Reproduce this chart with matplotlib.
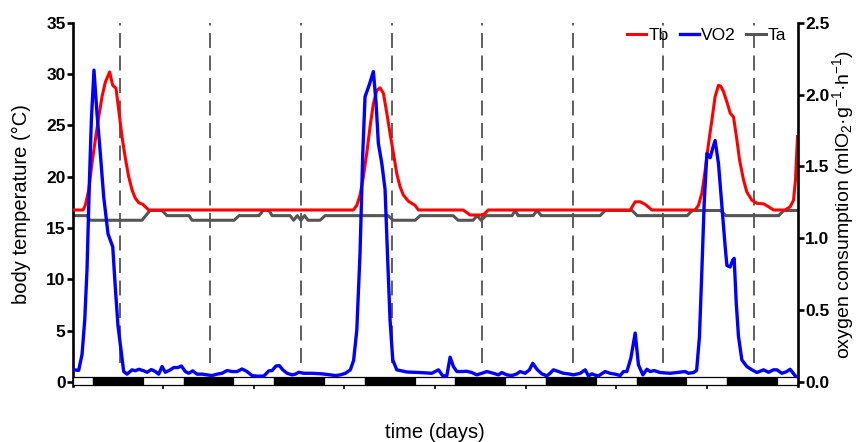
import numpy as np
import matplotlib
matplotlib.use('Agg')
import matplotlib.pyplot as plt
from matplotlib.patches import Rectangle

plt.rcParams['font.family'] = ['Liberation Sans', 'DejaVu Sans']
plt.rcParams['mathtext.fontset'] = 'custom'
plt.rcParams['mathtext.rm'] = 'Liberation Sans'
plt.rcParams['mathtext.it'] = 'Liberation Sans:italic'
plt.rcParams['mathtext.bf'] = 'Liberation Sans:bold'

# body temperature (deg C) vs time (days)
tb_days = [0, 0.116, 0.141, 0.179, 0.215, 0.252, 0.289, 0.326, 0.362, 0.400, 0.410, 0.425,
           0.444, 0.480, 0.510, 0.546, 0.583, 0.620, 0.657, 0.693, 0.731, 0.775, 0.811, 0.841,
           3.099, 3.137, 3.173, 3.210, 3.247, 3.284, 3.320, 3.358, 3.394, 3.431, 3.468, 3.504,
           3.541, 3.578, 3.615, 3.651, 3.707, 3.780, 3.817,
           4.310, 4.388, 4.532, 4.587,
           6.154, 6.209, 6.264, 6.319, 6.393,
           6.871, 6.907, 6.945, 6.981, 7.018, 7.055, 7.091, 7.128, 7.154, 7.183, 7.227, 7.257,
           7.294, 7.331, 7.361, 7.404, 7.441, 7.497, 7.552, 7.625, 7.680, 7.735, 7.864, 7.919,
           7.956, 7.978, 8.0]
tb_vals = [16.75, 16.75, 17.2, 18.7, 21.3, 23.6, 25.8, 27.8, 29.2, 30.0, 30.2, 29.6,
           28.9, 28.6, 26.5, 23.9, 21.8, 20.0, 18.7, 17.9, 17.46, 17.3, 17.0, 16.75,
           16.75, 17.2, 18.2, 20.0, 22.3, 24.9, 27.1, 28.4, 28.65, 28.1, 26.2, 24.2,
           22.3, 20.3, 19.0, 18.2, 17.6, 17.2, 16.75,
           16.75, 16.26, 16.26, 16.75,
           16.75, 17.55, 17.55, 17.3, 16.75,
           16.75, 17.2, 18.4, 20.6, 23.2, 25.5, 27.8, 28.9, 28.8, 28.3, 27.1, 26.2,
           25.8, 23.6, 21.6, 19.7, 18.5, 17.7, 17.4, 17.35, 17.07, 16.75, 16.75, 17.07,
           17.7, 19.7, 23.9]

# ambient temperature (deg C)
ta_days = [0, 0.160, 0.193, 0.767, 0.855, 0.988, 1.043, 1.286, 1.319, 1.783, 1.838,
           2.058, 2.103, 2.169, 2.202, 2.401, 2.44, 2.48, 2.52, 2.56, 2.60, 2.732, 2.787,
           3.482, 3.538, 3.781, 3.836, 4.200, 4.255, 4.421, 4.465, 4.509, 4.564, 4.851,
           4.884, 4.917, 5.083, 5.127, 5.171, 5.822, 5.877, 6.175, 6.231, 6.783, 6.839,
           7.152, 7.208, 7.792, 7.848, 8.0]
ta_vals = [16.2, 16.2, 15.75, 15.75, 16.7, 16.7, 16.2, 16.2, 15.75, 15.75, 16.2,
           16.2, 16.7, 16.7, 16.2, 16.2, 15.75, 16.2, 15.75, 16.2, 15.75, 15.75, 16.2,
           16.2, 15.75, 15.75, 16.2, 16.2, 15.75, 15.75, 16.2, 15.75, 16.2, 16.2,
           16.7, 16.2, 16.2, 16.7, 16.2, 16.2, 16.7, 16.7, 16.2, 16.2, 16.7,
           16.7, 16.2, 16.2, 16.7, 16.7]

# oxygen consumption (ml O2 / g / h)
vo2_days = [0, 0.068, 0.105, 0.135, 0.160, 0.185, 0.208, 0.237, 0.270, 0.307, 0.344, 0.392,
            0.444, 0.472, 0.502, 0.539, 0.565, 0.602,
            0.657, 0.693, 0.731, 0.786, 0.822, 0.870, 0.914, 0.951, 0.988, 1.024,
            1.079, 1.117, 1.164, 1.201, 1.245, 1.283, 1.327, 1.374, 1.429, 1.485,
            1.540, 1.595, 1.650, 1.705, 1.761, 1.816, 1.871, 1.926, 1.981, 2.036,
            2.110, 2.166, 2.202, 2.246, 2.283, 2.320, 2.368, 2.423, 2.459, 2.497,
            2.552, 2.643, 2.754, 2.846, 2.901, 2.956, 3.011, 3.066, 3.102, 3.137,
            3.173, 3.203, 3.228, 3.276, 3.320, 3.350, 3.375, 3.413, 3.449, 3.475, 3.504, 3.534, 3.578,
            3.689, 3.836, 3.965, 4.038, 4.086, 4.130, 4.167, 4.203, 4.241, 4.296,
            4.351, 4.406, 4.461, 4.517, 4.572, 4.645, 4.700, 4.737, 4.792, 4.848,
            4.903, 4.939, 4.994, 5.042, 5.079, 5.124, 5.179, 5.234, 5.270, 5.307,
            5.362, 5.417, 5.472, 5.528, 5.602,
            5.657, 5.693, 5.731, 5.767, 5.804, 5.877, 5.932, 5.988, 6.043, 6.080,
            6.117, 6.161, 6.209, 6.245, 6.294, 6.338, 6.375, 6.418, 6.484, 6.595,
            6.687, 6.760, 6.797, 6.852, 6.887,
            6.918, 6.945, 6.970, 7.000, 7.036, 7.066, 7.091, 7.128, 7.166, 7.202,
            7.221, 7.257, 7.287, 7.301, 7.324, 7.349, 7.386, 7.441, 7.497, 7.552,
            7.625, 7.680, 7.735, 7.772, 7.827, 7.875, 7.919, 7.975, 8.0]
vo2_vals = [0.085, 0.08, 0.19, 0.43, 0.78, 1.36, 1.82, 2.17, 1.87, 1.59, 1.29, 1.03,
            0.94, 0.66, 0.39, 0.20, 0.072, 0.054,
            0.084, 0.077, 0.088, 0.077, 0.067, 0.086, 0.072, 0.054, 0.107, 0.067,
            0.084, 0.10, 0.10, 0.111, 0.072, 0.060, 0.077, 0.054, 0.054, 0.049,
            0.044, 0.054, 0.060, 0.079, 0.072, 0.072, 0.090, 0.072, 0.044, 0.040,
            0.040, 0.077, 0.079, 0.111, 0.113, 0.084, 0.060, 0.049, 0.054, 0.067,
            0.060, 0.060, 0.056, 0.049, 0.044, 0.049, 0.060, 0.084, 0.15, 0.36,
            0.90, 1.59, 1.985, 2.07, 2.16, 1.94, 1.66, 1.52, 1.34, 0.90, 0.43, 0.153, 0.084,
            0.069, 0.065, 0.060, 0.084, 0.042, 0.042, 0.172, 0.107, 0.072, 0.072,
            0.074, 0.065, 0.049, 0.060, 0.072, 0.060, 0.049, 0.065, 0.049, 0.044,
            0.056, 0.072, 0.060, 0.084, 0.130, 0.088, 0.056, 0.042, 0.060, 0.084,
            0.072, 0.060, 0.056, 0.049, 0.060,
            0.084, 0.042, 0.056, 0.047, 0.042, 0.072, 0.060, 0.054, 0.044, 0.072,
            0.072, 0.165, 0.34, 0.118, 0.049, 0.088, 0.072, 0.079, 0.065, 0.060,
            0.067, 0.072, 0.060, 0.065, 0.08,
            0.315, 0.78, 1.24, 1.59, 1.56, 1.63, 1.68, 1.52, 1.22, 0.94,
            0.81, 0.80, 0.85, 0.86, 0.55, 0.315, 0.153, 0.107, 0.084, 0.065,
            0.084, 0.067, 0.084, 0.084, 0.060, 0.07, 0.088, 0.042, 0.035]

n_days = 8
dark_start = 0.225   # fraction of day when lights go off
dark_end = 0.775     # lights on
midnight_marks = [d + 0.52 for d in range(n_days)]

fig = plt.figure(figsize=(8.58, 4.42), dpi=100)
ax = fig.add_axes([72.5 / 858, 56 / 442, 725 / 858, 363.3 / 442])
ax2 = ax.twinx()

ymin = -0.4
ax.set_xlim(0, n_days)
ax.set_ylim(ymin, 35)
ax2.set_ylim(ymin / 14, 2.5)

ax.vlines(midnight_marks, 1.85, 35, colors='#444444', linewidth=1.2,
          linestyles=(0, (9, 4.5)), zorder=1)

ax.plot(ta_days, ta_vals, color='#555555', lw=2.2, label='Ta', zorder=2)
ax.plot(tb_days, tb_vals, color='#ff0000', lw=2.2, label='Tb', zorder=3)
ax2.plot(vo2_days, vo2_vals, color='#0000ff', lw=2.4, label='VO2', zorder=3)

# light / dark bar
for d in range(-1, n_days + 1):
    segs = [(d + dark_start, d + dark_end, 'black'), (d + dark_end, d + 1 + dark_start, 'white')]
    for x0, x1, fc in segs:
        x0, x1 = max(x0, 0), min(x1, n_days)
        if x1 <= x0:
            continue
        ax.add_patch(Rectangle((x0, -0.3), x1 - x0, 0.8, facecolor=fc, edgecolor='black',
                               lw=0.9, clip_on=False, zorder=4))

for s in ['top', 'right', 'bottom']:
    ax.spines[s].set_visible(False)
for s in ['top', 'left', 'bottom']:
    ax2.spines[s].set_visible(False)
ax.spines['left'].set_linewidth(1.9)
ax2.spines['right'].set_linewidth(1.9)

ax.set_yticks(np.arange(0, 36, 5))
ax2.set_yticks(np.arange(0, 2.51, 0.5))
ax2.set_yticklabels(['%.1f' % v for v in np.arange(0, 2.51, 0.5)])
ax.set_xticks(range(1, n_days))
ax.set_xticklabels([])
ax.tick_params(axis='y', direction='out', length=4, width=1.9, pad=1, labelsize=12.5)
ax2.tick_params(axis='y', direction='out', length=4, width=1.9, pad=1.5, labelsize=12.5)
ax.tick_params(axis='x', direction='out', length=2.5, width=1.2)
for lab in ax.get_yticklabels() + ax2.get_yticklabels():
    lab.set_fontweight('bold')

ax.set_ylabel('body temperature (°C)', fontsize=14.5)
ax.yaxis.set_label_coords(-0.07, 0.5)
ax2.set_ylabel('oxygen consumption (mlO$_2$·g$^{-1}$·h$^{-1}$)', fontsize=14, rotation=90)
ax2.yaxis.set_label_coords(1.063, 0.5)
ax2.yaxis.label.set_va('center')
ax.yaxis.label.set_va('center')
ax.set_xlabel('time (days)', fontsize=14.5)
ax.xaxis.set_label_coords(0.5, -0.129)
ax.xaxis.label.set_va('center')

h1, l1 = ax.get_legend_handles_labels()
h2, l2 = ax2.get_legend_handles_labels()
hd = dict(zip(l1 + l2, h1 + h2))
order = ['Tb', 'VO2', 'Ta']
ax2.legend([hd[k] for k in order], order, loc='center right', bbox_to_anchor=(0.985, 0.966),
           ncol=3, frameon=False, fontsize=12.5, handlelength=1.1, handletextpad=0.15,
           columnspacing=0.6, borderpad=0, borderaxespad=0)

fig.savefig('out.png', dpi=100)
